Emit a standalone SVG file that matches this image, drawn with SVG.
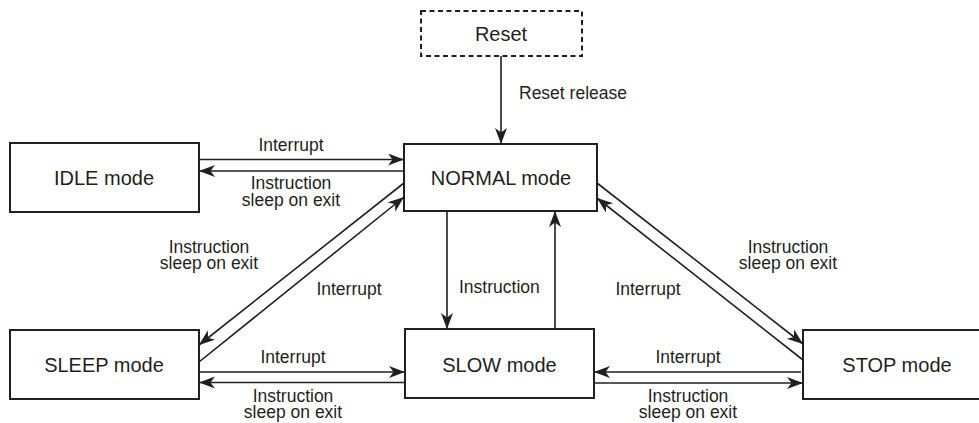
<svg xmlns="http://www.w3.org/2000/svg" width="979" height="423" viewBox="0 0 979 423">
<style>
.node{fill:#fff;stroke:#231f20;stroke-width:2}
.dash{fill:#fff;stroke:#231f20;stroke-width:2;stroke-dasharray:5 3.5}
.nt{font-family:"Liberation Sans",Arial,sans-serif;font-size:20px;fill:#231f20;text-anchor:middle}
.lt{font-family:"Liberation Sans",Arial,sans-serif;font-size:17.5px;fill:#231f20;text-anchor:middle}
.c{stroke:#231f20;stroke-width:1.6;fill:none;marker-end:url(#ah)}
</style>
<defs>
<marker id="ah" markerUnits="userSpaceOnUse" markerWidth="18" markerHeight="14" refX="16" refY="6" orient="auto">
<path d="M0,0 L16,6 L0,12 L4.5,6 Z" fill="#231f20"/>
</marker>
</defs>
<rect width="979" height="423" fill="#fff"/>
<g id="reset"><rect class="dash" x="421" y="11" width="161" height="45"/><text class="nt" x="501" y="40.5">Reset</text></g>
<g id="idle"><rect class="node" x="10" y="143" width="189" height="69"/><text class="nt" x="104" y="185">IDLE mode</text></g>
<g id="normal"><rect class="node" x="404" y="144" width="193" height="67"/><text class="nt" x="501" y="185">NORMAL mode</text></g>
<g id="sleep"><rect class="node" x="10" y="330" width="189" height="69"/><text class="nt" x="104" y="371.5">SLEEP mode</text></g>
<g id="slow"><rect class="node" x="405" y="329" width="189" height="69"/><text class="nt" x="499.5" y="371.5">SLOW mode</text></g>
<g id="stop"><rect class="node" x="803" y="330" width="189" height="69"/><text class="nt" x="897" y="372">STOP mode</text></g>
<g id="connectors">
<line class="c" x1="501" y1="56" x2="501" y2="144"/>
<line class="c" x1="199" y1="159.5" x2="404" y2="159.5"/>
<line class="c" x1="404" y1="171" x2="199" y2="171"/>
<line class="c" x1="404" y1="183" x2="199" y2="345"/>
<line class="c" x1="199" y1="362" x2="404" y2="197"/>
<line class="c" x1="447" y1="211" x2="447" y2="329"/>
<line class="c" x1="555" y1="329" x2="555" y2="211"/>
<line class="c" x1="597" y1="183" x2="803" y2="344"/>
<line class="c" x1="803" y1="360" x2="597" y2="198"/>
<line class="c" x1="199" y1="372" x2="405" y2="372"/>
<line class="c" x1="405" y1="382.5" x2="199" y2="382.5"/>
<line class="c" x1="801" y1="372" x2="594" y2="372"/>
<line class="c" x1="594" y1="383" x2="803" y2="383"/>
</g>
<g id="labels">
<text class="lt" x="519" y="99" style="text-anchor:start">Reset release</text>
<text class="lt" x="291" y="150.5">Interrupt</text>
<text class="lt" x="291" y="189">Instruction</text>
<text class="lt" x="291" y="206">sleep on exit</text>
<text class="lt" x="209" y="253">Instruction</text>
<text class="lt" x="209" y="269">sleep on exit</text>
<text class="lt" x="349" y="295">Interrupt</text>
<text class="lt" x="459" y="293" style="text-anchor:start">Instruction</text>
<text class="lt" x="648" y="295">Interrupt</text>
<text class="lt" x="788" y="253">Instruction</text>
<text class="lt" x="788" y="269">sleep on exit</text>
<text class="lt" x="293" y="362.5">Interrupt</text>
<text class="lt" x="293" y="401.5">Instruction</text>
<text class="lt" x="293" y="418">sleep on exit</text>
<text class="lt" x="688" y="362.5">Interrupt</text>
<text class="lt" x="688" y="401.5">Instruction</text>
<text class="lt" x="688" y="418">sleep on exit</text>
</g>
</svg>
